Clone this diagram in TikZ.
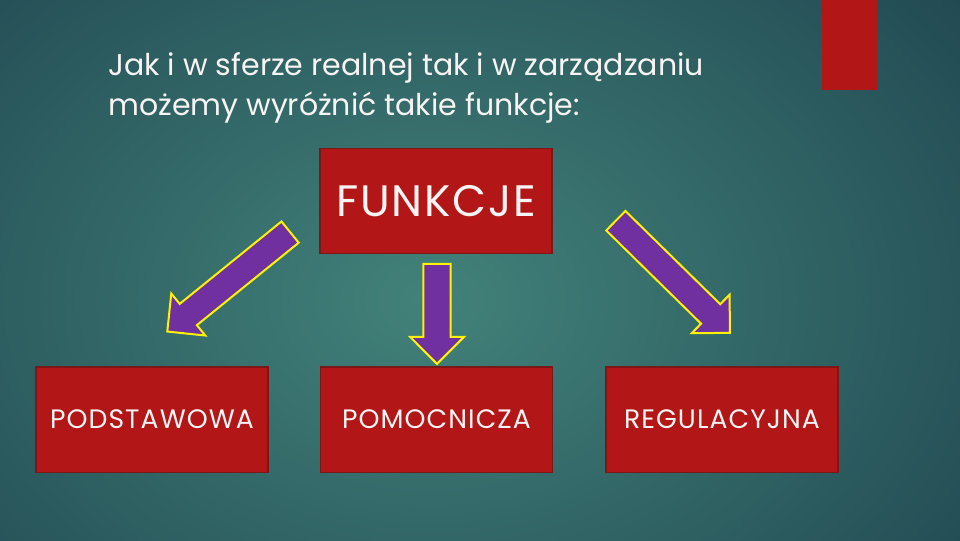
\documentclass[tikz,border=0pt]{standalone}
\usepackage{fontspec}
\setmainfont{Poppins}
\usetikzlibrary{shapes.arrows}
\definecolor{bgIn}{RGB}{66,130,122}
\definecolor{bgOut}{RGB}{20,50,66}
\definecolor{boxRed}{RGB}{178,22,22}
\definecolor{boxLine}{RGB}{125,22,22}
\definecolor{arrowFill}{RGB}{112,48,160}
\definecolor{textWhite}{RGB}{248,244,244}
\begin{document}
\begin{tikzpicture}[x=0.75pt, y=-0.75pt,
    boxStyle/.style={rectangle, draw=boxLine, line width=1pt, fill=boxRed, text=textWhite, minimum width=174pt, minimum height=79pt, inner sep=0pt},
    arrowStyle/.style={single arrow, draw=yellow, line width=1.5pt, fill=arrowFill, inner xsep=0pt, inner ysep=9.5pt, single arrow head extend=10pt}]
    % background
    \useasboundingbox (0,0) rectangle (960,540);
    \clip (0,0) rectangle (960,540);
    \shade[inner color=bgIn, outer color=bgOut] (-530,-400) rectangle (1390,1000);
    \fill[boxRed] (822,0) rectangle (877,90);

    \node[anchor=base west, inner sep=0pt, text=textWhite, font=\fontsize{22.5}{30}\selectfont](title1) at (108, 75) {Jak i w sferze realnej tak i w zarządzaniu};
    \node[anchor=base west, inner sep=0pt, text=textWhite, font=\fontsize{22.5}{30}\selectfont](title2) at (108, 115) {możemy wyróżnić takie funkcje:};

    \node[boxStyle, font=\fontsize{33}{38}\selectfont\addfontfeatures{LetterSpace=4}](funkcje) at (436, 201) {FUNKCJE};
    \node[boxStyle, font=\fontsize{20}{24}\selectfont\addfontfeatures{LetterSpace=4}](podst) at (152, 419.5) {PODSTAWOWA};
    \node[boxStyle, font=\fontsize{20}{24}\selectfont\addfontfeatures{LetterSpace=4}](pomoc) at (436.5, 419.5) {POMOCNICZA};
    \node[boxStyle, font=\fontsize{20}{24}\selectfont\addfontfeatures{LetterSpace=4}](regul) at (722, 419.5) {REGULACYJNA};

    \node[arrowStyle, minimum height=118.5pt, rotate=219](arrowL) at (234, 277.5) {};
    \node[arrowStyle, minimum height=75pt, rotate=-90](arrowM) at (437, 307) {};
    \node[arrowStyle, minimum height=120pt, rotate=-44.5](arrowR) at (668, 272) {};
\end{tikzpicture}
\end{document}
